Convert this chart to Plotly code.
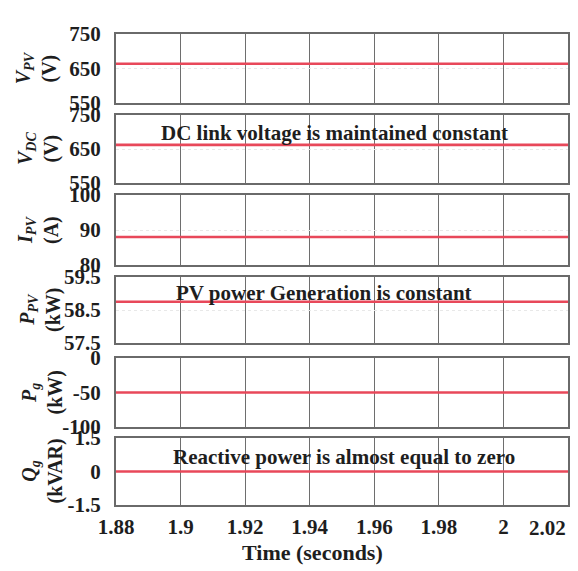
import plotly.graph_objects as go

# ---- data ----
time_s = [1.88, 2.02]
v_pv = [663, 663]
v_dc = [662, 662]
i_pv = [88, 88]
p_pv = [58.75, 58.75]
p_g = [-50, -50]
q_g = [0, 0]

x_ticks = [1.88, 1.9, 1.92, 1.94, 1.96, 1.98, 2.0, 2.02]
x_tick_text = ["1.88", "1.9", "1.92", "1.94", "1.96", "1.98", "2", "2.02"]

panels = [
    dict(y=v_pv, rng=[550, 750], ticks=[550, 650, 750], ticktext=["550", "650", "750"],
         title="<i>V</i><sub><i>PV</i></sub><br>(V)", note=None),
    dict(y=v_dc, rng=[550, 750], ticks=[550, 650, 750], ticktext=["550", "650", "750"],
         title="<i>V</i><sub><i>DC</i></sub><br>(V)", note="DC link voltage is maintained constant"),
    dict(y=i_pv, rng=[80, 100], ticks=[80, 90, 100], ticktext=["80", "90", "100"],
         title="<i>I</i><sub><i>PV</i></sub><br>(A)", note=None),
    dict(y=p_pv, rng=[57.5, 59.5], ticks=[57.5, 58.5, 59.5], ticktext=["57.5", "58.5", "59.5"],
         title="<i>P</i><sub><i>PV</i></sub><br>(kW)", note="PV power Generation is constant"),
    dict(y=p_g, rng=[-100, 0], ticks=[-100, -50, 0], ticktext=["-100", "-50", "0"],
         title="<i>P</i><sub><i>g</i></sub><br>(kW)", note=None),
    dict(y=q_g, rng=[-1.5, 1.5], ticks=[-1.5, 0, 1.5], ticktext=["-1.5", "0", "1.5"],
         title="<i>Q</i><sub><i>g</i></sub><br>(kVAR)", note="Reactive power is almost equal to zero"),
]

# the page body adds an 8px margin, so the figure is 8px smaller and all
# positions (measured in window pixels) are shifted by 8
OFF = 8
W, H = 578 - OFF, 571 - OFF
def fx(px):
    return (px - OFF) / W
def fy(py):
    return 1 - (py - OFF) / H

px_domains = [(33.5, 103), (115, 183), (195, 265), (277, 343), (358, 427), (438, 505)]
note_px = [None, (334, 133), None, (324, 293), None, (344, 457)]
title_x = [36, 38, 38, 40, 42, 42]
x_left, x_right = 116, 568

FONT = "Liberation Serif"
TXT = "#1e1e1e"
fig = go.Figure()
annotations = []

for i, (p, (top, bot)) in enumerate(zip(panels, px_domains)):
    n = i + 1
    xa = "x" if n == 1 else f"x{n}"
    ya = "y" if n == 1 else f"y{n}"
    fig.add_trace(go.Scatter(x=time_s, y=p["y"], mode="lines",
                             line=dict(color="#e8485a", width=2.6),
                             xaxis=xa, yaxis=ya, showlegend=False))
    last = (n == 6)
    fig.update_layout(**{
        ("xaxis" if n == 1 else f"xaxis{n}"): dict(
            domain=[fx(x_left), fx(x_right)], range=[1.88, 2.02],
            anchor=ya, tickvals=x_ticks[:-1],
            ticktext=[f"<b>{t}</b>" for t in x_tick_text[:-1]],
            showticklabels=last, ticks="", showgrid=True, gridcolor="#6e6e6e", gridwidth=1,
            zeroline=False, showline=True, mirror=True, linecolor="#6a6a6a", linewidth=2,
            tickfont=dict(family=FONT, size=21, color=TXT), automargin=False,
            ticklabelstandoff=2,
        ),
        ("yaxis" if n == 1 else f"yaxis{n}"): dict(
            domain=[fy(bot), fy(top)], range=p["rng"], anchor=xa,
            tickvals=p["ticks"], ticktext=[f"<b>{t}</b>" for t in p["ticktext"]],
            ticks="", showgrid=True, gridcolor="#e8e8e8", griddash="dot", gridwidth=1,
            zeroline=False, showline=True, mirror=True, linecolor="#6a6a6a", linewidth=2,
            tickfont=dict(family=FONT, size=21, color=TXT), ticklabelstandoff=9,
            automargin=False,
        ),
    })
    annotations.append(dict(
        text=f"<b>{p['title']}</b>", xref="paper", yref="paper",
        x=fx(title_x[i]), y=fy((top + bot) / 2), xanchor="center", yanchor="middle",
        textangle=-90, showarrow=False, font=dict(family=FONT, size=20, color=TXT),
    ))
    if p["note"]:
        cx, cy = note_px[i]
        annotations.append(dict(
            text=f"<b>{p['note']}</b>", xref="paper", yref="paper",
            x=fx(cx), y=fy(cy), xanchor="center", yanchor="middle",
            showarrow=False, font=dict(family=FONT, size=21, color=TXT),
        ))

# last x tick label drawn at its data value, right-aligned so it stays inside the picture
annotations.append(dict(
    text=f"<b>{x_tick_text[-1]}</b>", xref="x6", yref="paper",
    x=x_ticks[-1], y=fy(528), xanchor="right", yanchor="middle",
    showarrow=False, font=dict(family=FONT, size=21, color=TXT),
))
# x axis title
annotations.append(dict(
    text="<b>Time (seconds)</b>", xref="paper", yref="paper",
    x=fx(312), y=fy(552), xanchor="center", yanchor="middle",
    showarrow=False, font=dict(family=FONT, size=22, color=TXT),
))

fig.update_layout(
    width=W, height=H, margin=dict(l=0, r=0, t=0, b=0),
    paper_bgcolor="white", plot_bgcolor="white",
    annotations=annotations,
)

fig.write_html("out.html")
